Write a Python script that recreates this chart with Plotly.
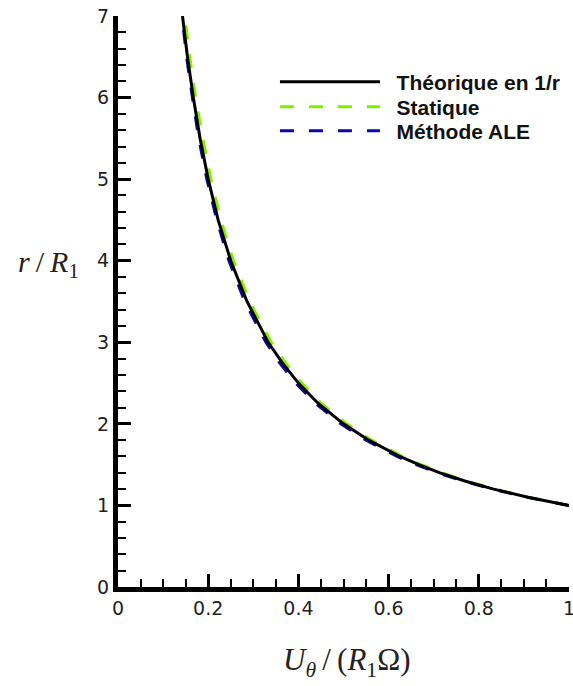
import plotly.graph_objects as go

# r / R1 values (vertical axis)
r_vals = [1.0, 1.1, 1.2, 1.3, 1.4, 1.5, 1.6, 1.8, 2.0, 2.25, 2.5, 2.75, 3.0, 3.5, 4.0, 4.5, 5.0, 5.5, 6.0, 6.5, 7.0]
# U_theta / (R1 Omega) for each series
u_theorique = [1.0, 0.909, 0.833, 0.769, 0.714, 0.667, 0.625, 0.556, 0.5, 0.444, 0.4, 0.364, 0.333, 0.286, 0.25, 0.222, 0.2, 0.182, 0.167, 0.154, 0.143]
u_statique = [1.0, 0.911, 0.836, 0.773, 0.719, 0.672, 0.631, 0.562, 0.507, 0.451, 0.407, 0.371, 0.340, 0.292, 0.256, 0.228, 0.206, 0.188, 0.172, 0.159, 0.148]
u_ale = [1.0, 0.907, 0.830, 0.765, 0.709, 0.661, 0.619, 0.550, 0.494, 0.438, 0.394, 0.358, 0.328, 0.281, 0.246, 0.219, 0.197, 0.179, 0.165, 0.152, 0.142]

series_names = ["Théorique en 1/r", "Statique", "Méthode ALE"]
x_tickvals = [0, 0.2, 0.4, 0.6, 0.8, 1]
x_ticktext = ["0", "0.2", "0.4", "0.6", "0.8", "1"]
y_tickvals = [0, 1, 2, 3, 4, 5, 6, 7]

pad = "\u00a0\u00a0"

fig = go.Figure()
fig.add_trace(go.Scatter(x=u_statique, y=r_vals, mode="lines", name=pad + series_names[1],
                         line=dict(color="#80f000", width=3, dash="14px,15px"), legend="legend2"))
fig.add_trace(go.Scatter(x=u_ale, y=r_vals, mode="lines", name=pad + series_names[2],
                         line=dict(color="#0a0aa0", width=3, dash="14px,15px"), legend="legend3"))
fig.add_trace(go.Scatter(x=u_theorique, y=r_vals, mode="lines", name=pad + series_names[0],
                         line=dict(color="black", width=3), legend="legend"))

axis_common = dict(
    showgrid=False, zeroline=False, showline=True, linecolor="black", linewidth=5,
    ticks="inside", ticklen=13, tickwidth=3, tickcolor="black",
    tickfont=dict(family="DejaVu Sans, sans-serif", size=19, color="#222"),
    mirror=False, ticklabeloverflow="allow", automargin=False,
)

fig.update_xaxes(range=[0, 1], tickvals=x_tickvals, ticktext=x_ticktext,
                 minor=dict(dtick=0.05, tick0=0, ticks="inside", ticklen=8, tickwidth=2, tickcolor="black"),
                 **axis_common)
fig.update_yaxes(range=[0, 7], tickvals=y_tickvals,
                 minor=dict(dtick=0.2, tick0=0, ticks="inside", ticklen=8, tickwidth=2, tickcolor="black"),
                 **axis_common)

fig.add_annotation(text="<i>r</i>\u2009/\u2009<i>R</i><sub>1</sub>", xref="paper", yref="paper",
                   x=-0.155, y=0.565, xanchor="center", yanchor="middle", showarrow=False,
                   font=dict(family="Liberation Serif, serif", size=30, color="#222"))
fig.add_annotation(text="<i>U</i><sub><i>θ</i></sub>\u2009/\u2009(<i>R</i><sub>1</sub>Ω)", xref="paper", yref="paper",
                   x=0.508, y=-0.131, xanchor="center", yanchor="middle", showarrow=False,
                   font=dict(family="Liberation Serif, serif", size=31, color="#222"))

leg_font = dict(family="Liberation Sans, Arial, sans-serif", size=21, color="#111", weight="bold")
leg_common = dict(x=0.348, xanchor="left", yanchor="middle", itemwidth=100,
                  bgcolor="rgba(0,0,0,0)", font=leg_font)

fig.update_layout(
    width=573, height=686,
    margin=dict(l=118, r=4, t=16, b=99, autoexpand=False),
    plot_bgcolor="white", paper_bgcolor="white",
    legend=dict(y=0.8844, **leg_common),
    legend2=dict(y=0.8406, **leg_common),
    legend3=dict(y=0.7986, **leg_common),
    showlegend=True,
)

fig.write_html("out.html", config={"displayModeBar": False},
               post_script="document.body.style.margin='0';")
